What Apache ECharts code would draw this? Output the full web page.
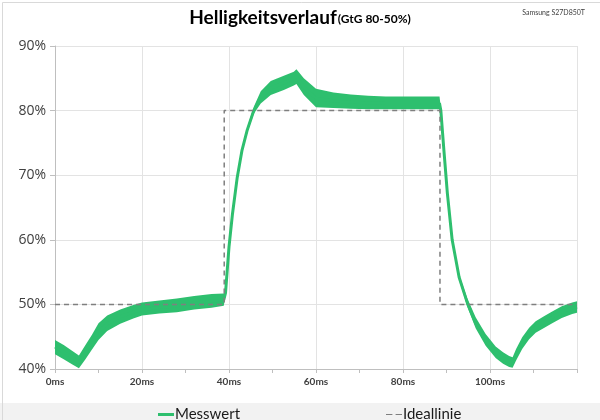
<!DOCTYPE html>
<html>
<head>
<meta charset="utf-8">
<script src="https://cdn.jsdelivr.net/npm/echarts@6/dist/echarts.min.js"></script>
<style>
html,body{margin:0;padding:0;background:#fff;}
#c{width:600px;height:420px;}
</style>
</head>
<body>
<div id="c"></div>
<script>
// Measured brightness (time in ms, percent)
const msPts      = [0,   2,   4,   5.5, 7,   8.5, 10,  12,  15,  18,  20,  24,  28,  32,  36,  38.8, 39.2, 40,  40.8, 41.9, 43,  44.2, 45.7, 47.3, 49.6, 52.6, 54.9, 55.5, 57.2, 60,   64,   68,   72,   76,   80,   84,   88.4, 88.7, 89.4, 90.2, 91.3, 92.9, 94.8, 96.7, 99,   101.3, 103,  104.4, 105.2, 106,  107.4, 109,  110.5, 112.5, 114.3, 116.5, 118.9, 120];
const measCenter = [43.4,42.6,41.8,41.0,42.6,44.2,45.8,47.0,48.1,48.8,49.2,49.5,49.8,50.2,50.5,50.7, 51.8, 58.9,64.0, 69.7, 73.9,77.0, 80.0, 82.0, 83.5, 84.3, 85.0, 85.3, 83.6, 81.9, 81.5, 81.3, 81.2, 81.1, 81.1, 81.1, 81.1, 80.0, 73.9, 67.2, 60.0, 54.2, 50.2, 47.1, 44.5, 42.6,  41.7, 41.1,  40.9,  42.2, 44.0,  45.5, 46.5,  47.3,  48.0,  48.8,  49.4,  49.6];
const measLow    = [42.3,41.5,40.7,40.1,41.5,43.0,44.5,45.9,47.0,47.8,48.3,48.6,48.8,49.2,49.5,49.8, 51.4, 58.5,63.6, 69.3, 73.5,76.6, 79.5, 81.1, 82.4, 83.2, 83.9, 84.1, 82.4, 80.5, 80.4, 80.3, 80.2, 80.2, 80.2, 80.2, 80.2, 79.6, 73.5, 66.8, 59.6, 53.8, 49.6, 46.3, 43.6, 41.7,  40.8, 40.3,  40.2,  41.3, 43.1,  44.6, 45.6,  46.4,  47.1,  47.9,  48.5,  48.7];
const measHigh   = [44.5,43.7,42.8,42.1,43.7,45.3,47.1,48.3,49.2,49.9,50.3,50.6,50.9,51.3,51.6,51.7, 52.2, 59.3,64.4, 70.1, 74.3,77.4, 80.6, 83.0, 84.6, 85.4, 86.0, 86.4, 85.0, 83.4, 82.8, 82.5, 82.3, 82.2, 82.2, 82.2, 82.2, 80.4, 74.3, 67.6, 60.4, 54.6, 50.9, 48.0, 45.4, 43.5,  42.6, 42.0,  41.8,  43.1, 44.9,  46.4, 47.4,  48.2,  48.9,  49.7,  50.3,  50.5];

// Ideal response
const idealMs   = [0, 38.9, 38.9, 88.5, 88.5, 120];
const idealVals = [50, 50,  80,   80,   50,   50];

const seriesNames = ['Messwert', 'Ideallinie'];
const titleMain = 'Helligkeitsverlauf';
const titleSub = '(GtG 80-50%)';
const deviceName = 'Samsung S27D850T';

const GREEN = '#2ebf6e';
const pair = (xs, ys) => xs.map((x, i) => [x, ys[i]]);

const chart = echarts.init(document.getElementById('c'), null, {renderer: 'canvas'});
chart.setOption({
  animation: false,
  backgroundColor: '#ffffff',
  title: [{
    text: '{a|' + titleMain + '}{b|' + titleSub + '}',
    left: 'center', top: 3,
    textStyle: {
      rich: {
        a: {fontFamily: 'Lato', fontWeight: 'bold', fontSize: 19, color: '#000'},
        b: {fontFamily: 'Lato', fontWeight: 'bold', fontSize: 12, color: '#000', padding: [4, 0, 0, 1]}
      }
    }
  }, {
    text: deviceName, right: 10, top: 4,
    textStyle: {fontFamily: 'Lato', fontSize: 7, fontWeight: 'normal', color: '#404040'}
  }],
  graphic: [{
    type: 'rect', left: 0, top: 403, z: -10,
    shape: {width: 600, height: 17},
    style: {fill: '#f2f2f2'}
  }, {
    type: 'rect', left: 0, top: 0, z: -9,
    shape: {width: 599, height: 419},
    style: {fill: 'none', stroke: '#d9d9d9', lineWidth: 1}
  }],
  legend: [{
    data: [{name: seriesNames[0], icon: 'rect'}], left: 153, top: 402,
    itemWidth: 16, itemHeight: 3, itemGap: 0,
    itemStyle: {color: GREEN},
    textStyle: {fontFamily: 'Lato', fontSize: 15, color: '#1a1a1a', padding: [0,0,0,-4]}
  }, {
    data: [{name: seriesNames[1], icon: 'path://M0,0h6v1h-6zM9,0h6v1h-6z'}], left: 381, top: 402,
    itemWidth: 16, itemHeight: 2, itemGap: 0,
    itemStyle: {color: '#7f7f7f'},
    textStyle: {fontFamily: 'Lato', fontSize: 15, color: '#1a1a1a', padding: [0,0,0,-4]}
  }],
  grid: {left: 55, right: 23, top: 46, bottom: 51, containLabel: false},
  xAxis: {
    type: 'value', min: 0, max: 120, interval: 20,
    axisLine: {show: true, lineStyle: {color: '#bfbfbf', width: 1}},
    axisTick: {show: true, length: 4, lineStyle: {color: '#bfbfbf'}},
    minorTick: {show: true, splitNumber: 2, length: 4, lineStyle: {color: '#bfbfbf'}},
    splitLine: {show: true, lineStyle: {color: '#e3e3e3', width: 1}},
    axisLabel: {formatter: v => v < 120 ? v + 'ms' : '', fontFamily: 'Lato', fontWeight: 'bold', fontSize: 10, color: '#404040', margin: 8}
  },
  yAxis: {
    type: 'value', min: 40, max: 90, interval: 10,
    axisLine: {show: true, lineStyle: {color: '#bfbfbf', width: 1}},
    axisTick: {show: true, length: 5, inside: false, lineStyle: {color: '#bfbfbf'}},
    splitLine: {show: true, lineStyle: {color: '#e3e3e3', width: 1}},
    axisLabel: {formatter: '{value}%', fontFamily: 'Open Sans', fontSize: 14, color: '#404040', margin: 9}
  },
  series: [{
    name: 'band', type: 'custom', silent: true, z: 2,
    data: [[0, 40]],
    renderItem: function (params, api) {
      const pts = [];
      for (let i = 0; i < msPts.length; i++) pts.push(api.coord([msPts[i], measHigh[i]]));
      for (let i = msPts.length - 1; i >= 0; i--) pts.push(api.coord([msPts[i], measLow[i]]));
      return {type: 'polygon', shape: {points: pts}, style: {fill: GREEN}};
    }
  }, {
    name: seriesNames[0], type: 'line',
    data: pair(msPts, measCenter), symbol: 'none',
    lineStyle: {color: GREEN, width: 3}, itemStyle: {color: GREEN}, z: 3
  }, {
    name: seriesNames[1], type: 'line',
    data: pair(idealMs, idealVals), symbol: 'none',
    lineStyle: {color: '#7f7f7f', width: 1.5, type: [5, 4]}, itemStyle: {color: '#7f7f7f'}, z: 5
  }]
});
</script>
</body>
</html>
